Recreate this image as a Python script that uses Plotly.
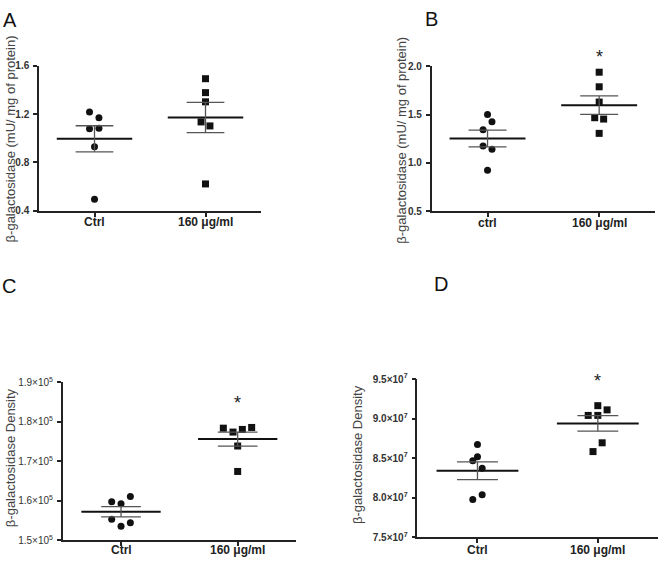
import numpy as np
import plotly.graph_objects as go

W, H = 661, 569

# ---------------- data ----------------
categories_A = ["Ctrl", "160 μg/ml"]
categories_B = ["ctrl", "160 μg/ml"]
categories_C = ["Ctrl", "160 μg/ml"]
categories_D = ["Ctrl", "160 μg/ml"]

A_ctrl = [1.218, 1.170, 1.078, 1.083, 0.930, 0.497]
A_trt = [1.492, 1.377, 1.301, 1.135, 1.102, 0.623]
B_ctrl = [1.502, 1.427, 1.343, 1.174, 1.141, 0.925]
B_trt = [1.939, 1.788, 1.630, 1.468, 1.454, 1.306]
C_ctrl = [1.6106e5, 1.5975e5, 1.5925e5, 1.5529e5, 1.5445e5, 1.5356e5]
C_trt = [1.7837e5, 1.7738e5, 1.7805e5, 1.7855e5, 1.7385e5, 1.6741e5]
D_ctrl = [8.673e7, 8.517e7, 8.468e7, 8.373e7, 8.036e7, 7.978e7]
D_trt = [9.163e7, 9.110e7, 9.040e7, 9.040e7, 8.694e7, 8.583e7]

ticks_A = [0.4, 0.8, 1.2, 1.6]
ticks_B = [0.5, 1.0, 1.5, 2.0]
ticks_C = [1.5e5, 1.6e5, 1.7e5, 1.8e5, 1.9e5]
ticks_D = [7.5e7, 8.0e7, 8.5e7, 9.0e7, 9.5e7]
ticktext_A = ["0.4", "0.8", "1.2", "1.6"]
ticktext_B = ["0.5", "1.0", "1.5", "2.0"]
ticktext_C = ["1.5×10<sup>5</sup>", "1.6×10<sup>5</sup>", "1.7×10<sup>5</sup>",
              "1.8×10<sup>5</sup>", "1.9×10<sup>5</sup>"]
ticktext_D = ["7.5×10<sup>7</sup>", "8.0×10<sup>7</sup>", "8.5×10<sup>7</sup>",
              "9.0×10<sup>7</sup>", "9.5×10<sup>7</sup>"]

ytitle_AB = "β-galactosidase (mU/ mg of protein)"
ytitle_CD = "β-galactosidase Density"

# significance star heights (data units); None = no star
star_A = None
star_B = 2.10
star_C = 1.848e5
star_D = 9.475e7
star_text = "*"

# ---------------- style: horizontal jitter of points ----------------
jit_A_ctrl = [-0.045, 0.04, -0.045, 0.04, 0, 0]
jit_A_trt = [0, 0, 0, -0.04, 0.04, 0]
jit_B_ctrl = [0, 0.04, -0.04, -0.04, 0.04, 0]
jit_B_trt = [0, 0, 0, -0.04, 0.04, 0]
jit_C_ctrl = [0.08, -0.08, 0, -0.08, 0.08, 0]
jit_C_trt = [-0.123, -0.04, 0.04, 0.12, 0, 0]
jit_D_ctrl = [0, 0, -0.039, 0.039, 0.039, -0.039]
jit_D_trt = [0, 0.077, -0.08, 0, 0.036, -0.04]

FONT = "Liberation Sans, Arial, sans-serif"
fig = go.Figure()

def px_dom_x(a, b):
    return [a / W, b / W]

def px_dom_y(top, bottom):
    return [1 - bottom / H, 1 - top / H]

panels = [
    dict(ax="", dx=(39, 261), dy=(60, 208.7), rng=[0.4, 1.6], lab_y=220,
         tv=ticks_A, tt=ticktext_A, cats=categories_A, g=[A_ctrl, A_trt],
         j=[jit_A_ctrl, jit_A_trt], bold=True, star=star_A),
    dict(ax="2", dx=(431.7, 655), dy=(60.7, 209), rng=[0.5, 2.0], lab_y=221.5,
         tv=ticks_B, tt=ticktext_B, cats=categories_B, g=[B_ctrl, B_trt],
         j=[jit_B_ctrl, jit_B_trt], bold=True, star=star_B),
    dict(ax="3", dx=(62.7, 296), dy=(384, 545.7), rng=[1.5e5, 1.9e5], lab_y=556,
         tv=ticks_C, tt=ticktext_C, cats=categories_C, g=[C_ctrl, C_trt],
         j=[jit_C_ctrl, jit_C_trt], bold=False, star=star_C),
    dict(ax="4", dx=(417.3, 658), dy=(380.7, 542.7), rng=[7.5e7, 9.5e7], lab_y=555.5,
         tv=ticks_D, tt=ticktext_D, cats=categories_D, g=[D_ctrl, D_trt],
         j=[jit_D_ctrl, jit_D_trt], bold=True, star=star_D),
]

symbols = ["circle", "square"]
sizes = [7, 7]
MEAN_HW = 0.34
SEM_HW = 0.17
axcol = "#222222"

for p in panels:
    xa = "x" + p["ax"]
    ya = "y" + p["ax"]
    for gi, vals in enumerate(p["g"]):
        vals_arr = np.array(vals)
        xs = gi + np.array(p["j"][gi])
        fig.add_trace(go.Scatter(
            x=xs, y=vals_arr, mode="markers", xaxis=xa, yaxis=ya,
            marker=dict(symbol=symbols[gi], size=sizes[gi], color="#111111",
                        line=dict(width=0)),
            showlegend=False, hoverinfo="y", cliponaxis=False))
        m = vals_arr.mean()
        sem = vals_arr.std(ddof=1) / np.sqrt(len(vals_arr))
        fig.add_trace(go.Scatter(
            x=[gi - MEAN_HW, gi + MEAN_HW], y=[m, m], mode="lines",
            xaxis=xa, yaxis=ya, line=dict(color="#111111", width=2),
            showlegend=False, hoverinfo="skip"))
        fig.add_trace(go.Scatter(
            x=[gi - SEM_HW, gi + SEM_HW, None, gi - SEM_HW, gi + SEM_HW, None, gi, gi],
            y=[m + sem, m + sem, None, m - sem, m - sem, None, m - sem, m + sem],
            mode="lines", xaxis=xa, yaxis=ya,
            line=dict(color="#555555", width=1.3),
            showlegend=False, hoverinfo="skip"))
    tickfont = dict(family=FONT, size=10, color="#333333")
    if p["bold"]:
        tickfont["weight"] = "bold"
    key = p["ax"]
    fig.update_layout(**{
        "xaxis" + key: dict(domain=px_dom_x(*p["dx"]), range=[-0.5, 1.5], anchor=ya,
                            tickvals=[0, 1], showticklabels=False,
                            showline=True, linecolor=axcol, linewidth=1.5,
                            ticks="outside", ticklen=4, tickwidth=1.5, tickcolor=axcol,
                            showgrid=False, zeroline=False, fixedrange=True),
        "yaxis" + key: dict(domain=px_dom_y(*p["dy"]), range=p["rng"], anchor=xa,
                            tickvals=p["tv"], ticktext=p["tt"],
                            showline=True, linecolor=axcol, linewidth=1.5,
                            ticks="outside", ticklen=4, tickwidth=1.5, tickcolor=axcol,
                            ticklabelstandoff=2,
                            showgrid=False, zeroline=False, fixedrange=True,
                            tickfont=tickfont),
    })
    # category labels
    for ci, c in enumerate(p["cats"]):
        fig.add_annotation(x=ci, y=1 - p["lab_y"] / H, xref=xa, yref="paper",
                           text="<b>" + c + "</b>", showarrow=False,
                           xanchor="center", yanchor="middle",
                           font=dict(family=FONT, size=12, color="#222222"))
    if p["star"] is not None:
        frac = (p["star"] - p["rng"][0]) / (p["rng"][1] - p["rng"][0])
        fig.add_annotation(x=1, y=frac, xref=xa, yref=ya + " domain",
                           text=star_text, showarrow=False,
                           xanchor="center", yanchor="middle",
                           font=dict(family=FONT, size=18, color="#222222"))

# y-axis titles
ytitles = [(10, 135.5, ytitle_AB), (402, 135.8, ytitle_AB),
           (10, 461.7, ytitle_CD), (357, 457.5, ytitle_CD)]
for (xp, yp, t) in ytitles:
    fig.add_annotation(x=xp / W, y=1 - yp / H, xref="paper", yref="paper", text=t,
                       textangle=-90, showarrow=False, xanchor="center", yanchor="middle",
                       font=dict(family=FONT, size=13, color="#444444"))

# panel letters
letters = [(10, 13, "A"), (431, 12.5, "B"), (9, 286, "C"), (441, 283.5, "D")]
for (xp, yp, t) in letters:
    fig.add_annotation(x=xp / W, y=1 - yp / H, xref="paper", yref="paper", text=t,
                       showarrow=False, xanchor="center", yanchor="middle",
                       font=dict(family=FONT, size=20, color="#111111"))

fig.update_layout(width=W, height=H, margin=dict(l=0, r=0, t=0, b=0),
                  paper_bgcolor="white", plot_bgcolor="white", showlegend=False)

fig.write_html("out.html",
               config={"displayModeBar": False},
               post_script="document.body.style.margin='0px';"
                           "document.body.style.overflow='hidden';")
